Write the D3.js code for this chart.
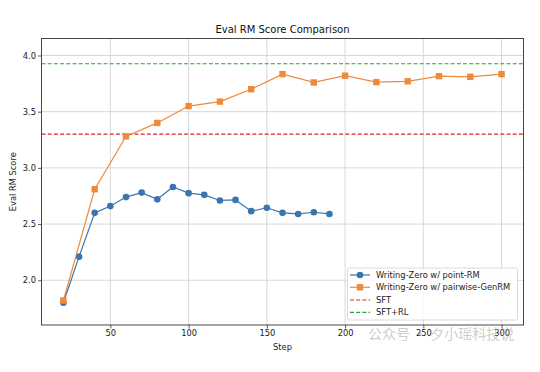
<!DOCTYPE html>
<html><head><meta charset="utf-8">
<script src="https://cdn.jsdelivr.net/npm/d3@7"></script>
<style>body{margin:0;background:#fff}svg{display:block;font-family:"DejaVu Sans",sans-serif}</style>
</head><body>
<svg id="c" width="540" height="372"></svg>
<script>
const pointSteps = [20,30,40,50,60,70,80,90,100,110,120,130,140,150,160,170,180,190];
const pointValues = [1.80,2.21,2.60,2.66,2.74,2.78,2.72,2.83,2.775,2.76,2.71,2.715,2.615,2.645,2.60,2.59,2.605,2.59];
const pairSteps = [20,40,60,80,100,120,140,160,180,200,220,240,260,280,300];
const pairValues = [1.82,2.81,3.28,3.40,3.55,3.59,3.70,3.834,3.76,3.82,3.763,3.77,3.816,3.81,3.834];
const sftValue = 3.30;
const sftRlValue = 3.926;
const xTicks = [50,100,150,200,250,300];
const yTicks = [2.0,2.5,3.0,3.5,4.0];
const seriesNames = ["Writing-Zero w/ point-RM","Writing-Zero w/ pairwise-GenRM","SFT","SFT+RL"];

const svg = d3.select("#c");
const L=41.5, R=523.5, T=38.5, B=325;
const x = d3.scaleLinear().domain([6,314]).range([L,R]);
const y = d3.scaleLinear().domain([1.602,4.151]).range([B,T]);
const blue="#3b75af", orange="#ee8a3b", red="#d62728", green="#2ca02c";

// grid
const g = svg.append("g");
g.selectAll(".vx").data(xTicks).join("line")
  .attr("x1",d=>x(d)).attr("x2",d=>x(d)).attr("y1",T).attr("y2",B)
  .attr("stroke","#d4d4d4").attr("stroke-width",0.9);
g.selectAll(".hy").data(yTicks).join("line")
  .attr("y1",d=>y(d)).attr("y2",d=>y(d)).attr("x1",L).attr("x2",R)
  .attr("stroke","#d4d4d4").attr("stroke-width",0.9);

// axes
const xAxis = d3.axisBottom(x).tickValues(xTicks).tickSize(3.5).tickPadding(2).tickFormat(d3.format("d"));
const yAxis = d3.axisLeft(y).tickValues(yTicks).tickSize(3.5).tickPadding(2).tickFormat(d3.format(".1f"));
const ax = svg.append("g").attr("transform",`translate(0,${B})`).call(xAxis);
const ay = svg.append("g").attr("transform",`translate(${L},0)`).call(yAxis);
[ax,ay].forEach(a=>{a.select(".domain").remove();
  a.selectAll("text").attr("font-size",8.3).attr("fill","#222").attr("font-family","DejaVu Sans");
  a.selectAll("line").attr("stroke","#333").attr("stroke-width",0.8);});

// reference lines
svg.append("line").attr("x1",L).attr("x2",R).attr("y1",y(sftValue)).attr("y2",y(sftValue))
  .attr("stroke",red).attr("stroke-width",1.1).attr("stroke-dasharray","4,2.2");
svg.append("line").attr("x1",L).attr("x2",R).attr("y1",y(sftRlValue)).attr("y2",y(sftRlValue))
  .attr("stroke",green).attr("stroke-width",1.1).attr("stroke-dasharray","4,2.2");

const line = d3.line().x(d=>x(d[0])).y(d=>y(d[1]));
const pData = pointSteps.map((s,i)=>[s,pointValues[i]]);
const qData = pairSteps.map((s,i)=>[s,pairValues[i]]);
svg.append("path").datum(pData).attr("d",line).attr("fill","none").attr("stroke",blue).attr("stroke-width",1.2);
svg.selectAll(".pc").data(pData).join("circle").attr("cx",d=>x(d[0])).attr("cy",d=>y(d[1])).attr("r",3.3).attr("fill",blue);
svg.append("path").datum(qData).attr("d",line).attr("fill","none").attr("stroke",orange).attr("stroke-width",1.2);
const sq=6.4;
svg.selectAll(".qs").data(qData).join("rect").attr("x",d=>x(d[0])-sq/2).attr("y",d=>y(d[1])-sq/2)
  .attr("width",sq).attr("height",sq).attr("fill",orange);

// frame
svg.append("rect").attr("x",L).attr("y",T).attr("width",R-L).attr("height",B-T)
  .attr("fill","none").attr("stroke","#333").attr("stroke-width",0.9);

// labels
svg.append("text").attr("x",(L+R)/2).attr("y",33).attr("text-anchor","middle").attr("font-size",10).attr("fill","#111").text("Eval RM Score Comparison");
svg.append("text").attr("x",(L+R)/2).attr("y",350).attr("text-anchor","middle").attr("font-size",8.3).attr("fill","#222").text("Step");
svg.append("text").attr("transform",`translate(16,${(T+B)/2}) rotate(-90)`).attr("text-anchor","middle").attr("font-size",8.3).attr("fill","#222").text("Eval RM Score");

// legend
const lg = svg.append("g");
lg.append("rect").attr("x",347.5).attr("y",268).attr("width",170).attr("height",52).attr("rx",2)
  .attr("fill","#fff").attr("fill-opacity",0.85).attr("stroke","#d0d0d0").attr("stroke-width",0.8);
const ly=[275,287.3,300,312.3];
const cols=[blue,orange,red,green];
seriesNames.forEach((n,i)=>{
  const yy=ly[i];
  const l=lg.append("line").attr("x1",350).attr("x2",370).attr("y1",yy).attr("y2",yy).attr("stroke",cols[i]).attr("stroke-width",1.2);
  if(i>=2) l.attr("stroke-dasharray","4,2.2");
  if(i===0) lg.append("circle").attr("cx",360).attr("cy",yy).attr("r",3.3).attr("fill",blue);
  if(i===1) lg.append("rect").attr("x",360-sq/2).attr("y",yy-sq/2).attr("width",sq).attr("height",sq).attr("fill",orange);
  lg.append("text").attr("x",376).attr("y",yy+3).attr("font-size",8.3).attr("fill","#222").text(n);
});

// watermark
svg.append("text").attr("x",368).attr("y",339).attr("font-size",14).attr("fill","#999").attr("fill-opacity",0.5)
  .attr("font-family","Noto Sans CJK SC").text("公众号 · 夕小瑶科技说");
</script>
</body></html>
